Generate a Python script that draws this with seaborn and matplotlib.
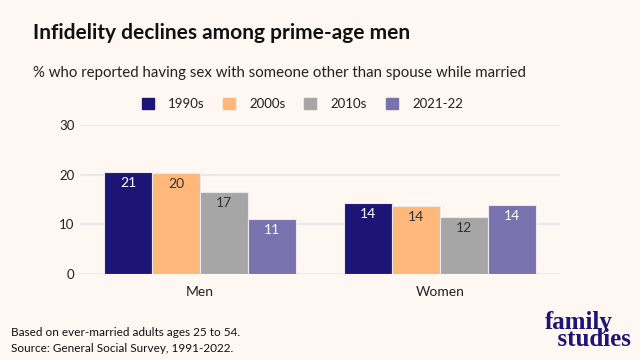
import numpy as np
import pandas as pd
import seaborn as sns
import matplotlib.pyplot as plt
from matplotlib.patches import Rectangle

groups = ["Men", "Women"]
decades = ["1990s", "2000s", "2010s", "2021-22"]
men = [20.6, 20.4, 16.5, 11.1]
women = [14.25, 13.7, 11.5, 13.8]
labels_men = ["21", "20", "17", "11"]
labels_women = ["14", "14", "12", "14"]

colors = ["#1d1575", "#ffb77a", "#a6a6a6", "#7872ae"]
text_colors = ["white", "#333333", "#333333", "white"]
bg = "#fff7f2"

df = pd.DataFrame({
    "group": ["Men"] * 4 + ["Women"] * 4,
    "decade": decades * 2,
    "value": men + women,
})

sns.set_theme(style="white")
plt.rcParams["font.family"] = ["Lato", "DejaVu Sans"]

fig = plt.figure(figsize=(6.4, 3.6), dpi=100, facecolor=bg)
ax = fig.add_axes([80 / 640, 1 - 274 / 360, 480 / 640, 149 / 360])
ax.set_facecolor(bg)

sns.barplot(data=df, x="group", y="value", hue="decade", hue_order=decades,
            palette=colors, ax=ax, width=0.8, gap=0, edgecolor="#ece8f0",
            linewidth=0.8, legend=False, saturation=1)

ax.set_ylim(0, 30)
ax.set_yticks([0, 10, 20, 30])
ax.yaxis.grid(True, color="#ebe7ea", linewidth=1.5)
ax.set_axisbelow(True)
for s in ax.spines.values():
    s.set_visible(False)
ax.tick_params(axis="both", length=0, colors="#222222")
ax.tick_params(axis="y", pad=4, labelsize=9.5)
ax.tick_params(axis="x", pad=9, labelsize=10)
ax.set_xlabel("")
ax.set_ylabel("")

for i, cont in enumerate(ax.containers):
    for j, bar in enumerate(cont):
        lab = [labels_men, labels_women][j][i]
        ax.text(bar.get_x() + bar.get_width() / 2, bar.get_height() - 1.0, lab,
                ha="center", va="top", fontsize=10, color=text_colors[i])

fig.text(33 / 640, 1 - 33 / 360, "Infidelity declines among prime-age men",
         fontsize=15, fontweight="bold", color="#111111", va="center")
fig.text(33 / 640, 1 - 73 / 360,
         "% who reported having sex with someone other than spouse while married",
         fontsize=10.8, color="#222222", va="center")

leg_x = [142, 223, 304, 386]
for k, d in enumerate(decades):
    fig.patches.append(Rectangle((leg_x[k] / 640, 1 - 109 / 360), 12 / 640, 11 / 360,
                                 transform=fig.transFigure, color=colors[k]))
    fig.text((leg_x[k] + 26) / 640, 1 - 103.5 / 360, d, fontsize=9.5,
             color="#222222", va="center")

fig.text(11 / 640, 1 - 333 / 360, "Based on ever-married adults ages 25 to 54.",
         fontsize=8.5, color="#111111", va="center")
fig.text(11 / 640, 1 - 348 / 360, "Source: General Social Survey, 1991-2022.",
         fontsize=8.5, color="#111111", va="center")

# logo as one two-line text so the lines can sit tight together
fig.text(545 / 640, 1 - 331 / 360, "family\n  studies", fontsize=18,
         fontweight="bold", family=["Liberation Serif", "DejaVu Serif"],
         color="#1d1575", ha="left", va="center", multialignment="left",
         linespacing=0.72)

fig.savefig("out.png", dpi=100, facecolor=bg)
